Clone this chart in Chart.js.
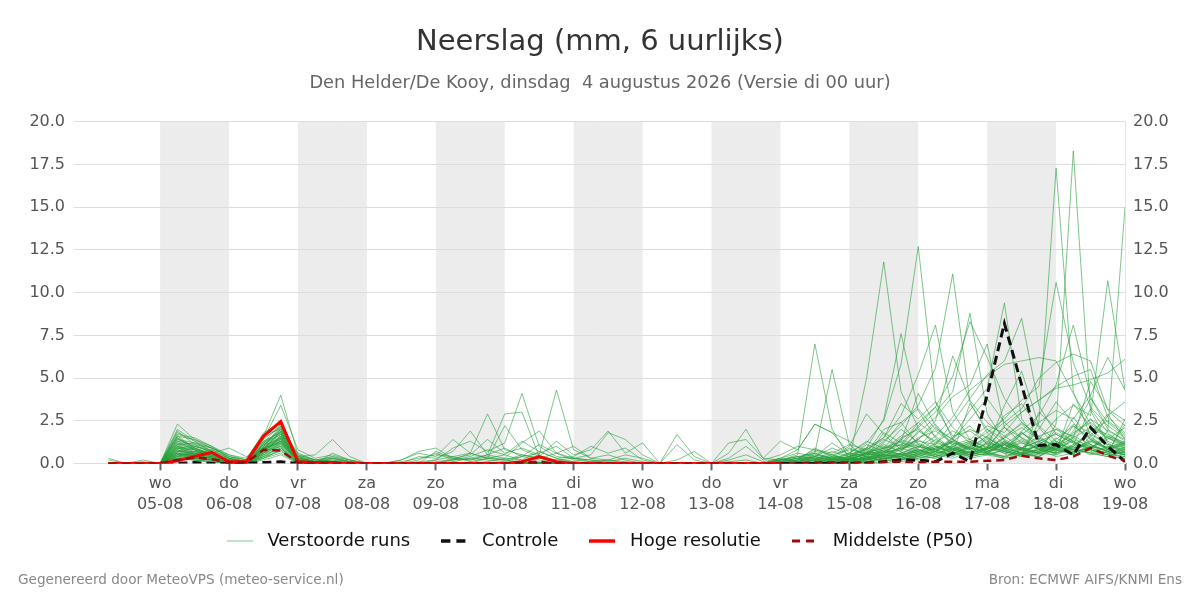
<!DOCTYPE html>
<html><head><meta charset="utf-8">
<script src="https://cdn.jsdelivr.net/npm/chart.js@4/dist/chart.umd.min.js"></script>
<style>
html,body{margin:0;padding:0;background:#fff;}
#wrap{position:relative;width:1200px;height:600px;}
canvas{position:absolute;left:0;top:0;}
.foot{position:absolute;top:571px;font:13.6px 'DejaVu Sans';color:#888;white-space:nowrap;}
</style></head><body>
<div id="wrap"><canvas id="c" width="1200" height="600"></canvas>
<div class="foot" style="left:18px">Gegenereerd door MeteoVPS (meteo-service.nl)</div>
<div class="foot" style="right:18px">Bron: ECMWF AIFS/KNMI Ens</div></div>
<script>
// hours relative to wo 05-08 00:00
const hours = [-18,-12,-6,0,6,12,18,24,30,36,42,48,54,60,66,72,78,84,90,96,102,108,114,120,126,132,138,144,150,156,162,168,174,180,186,192,198,204,210,216,222,228,234,240,246,252,258,264,270,276,282,288,294,300,306,312,318,324,330,336];
const dayHours = [0,24,48,72,96,120,144,168,192,216,240,264,288,312,336];
const dayNames = ['wo','do','vr','za','zo','ma','di','wo','do','vr','za','zo','ma','di','wo'];
const dayDates = ['05-08','06-08','07-08','08-08','09-08','10-08','11-08','12-08','13-08','14-08','15-08','16-08','17-08','18-08','19-08'];
const shadedDays = [0,48,96,144,192,240,288];

const control = [0,0,0, 0,0,0.05,0, 0,0,0.05,0.1, 0,0,0,0, 0,0,0,0, 0,0,0,0, 0,0,0,0, 0,0,0,0, 0,0,0,0, 0,0,0,0, 0,0,0,0, 0,0,0.1,0.2, 0.2,0.1,0.6,0.1, 4.0,8.2,4.6,1.05, 1.1,0.5,2.1,1.0, 0.1];
const hres = [0,0,0, 0,0.15,0.4,0.65, 0.1,0.1,1.6,2.45, 0.1,0.05,0.05,0, 0,0,0,0, 0,0,0,0, 0,0.1,0.4,0.1, 0,0,0,0, 0,0,0,0, 0,0,0,0, 0];
const p50 = [0,0,0, 0,0.2,0.35,0.25, 0.05,0.05,0.8,0.75, 0.05,0,0,0, 0,0,0,0, 0,0,0,0, 0,0.05,0.1,0, 0,0,0,0, 0,0,0,0, 0,0,0,0, 0,0,0.05,0.05, 0.05,0.05,0.1,0.1, 0.05,0.1,0.1,0.1, 0.15,0.2,0.45,0.3, 0.2,0.4,0.9,0.45, 0.15];

const run01 = [0.3,0,0.2, 0,2.3,1.4,0.9, 0.4,0.1,1.2,1.9, 0.3,0.1,0.2,0.1, 0,0,0,0.1, 0.2,0.4,0.1,0.3, 0.5,0.2,0.7,0.3, 0.1,0,0.2,0.1, 0,0,0,0, 0,0.1,0.2,0, 0.1,0.3,0.8,0.5, 0.2,0.6,1.1,0.7, 1.9,1.3,0.8,0.4, 0.6,1.2,0.7,0.5, 1.0,0.8,0.6,0.4, 0.7];
const run02 = [0,0,0, 0,1.9,1.1,0.6, 0.2,0,1.6,4.0, 0.5,0.2,0.1,0, 0,0,0,0, 0,0.1,0.3,0.2, 0.1,0.4,0.2,0.1, 0,0,0,0, 0,0,0,0, 0,0,0,0, 0,0.2,0.5,0.3, 0.1,0.4,0.9,1.3, 0.8,0.6,1.5,2.2, 1.1,0.7,0.5,2.4, 17.3,4.2,1.6,0.8, 0.5];
const run03 = [0,0,0, 0,1.7,1.5,1.0, 0.3,0,1.4,3.4, 0.8,0.3,0.5,0.2, 0,0,0,0, 0,0,0,0.1, 0.3,0.2,0.1,0, 0,0,0,0, 0,0,0,0, 0,0,0,0, 0.3,0.1,0.4,0.2, 0.2,0.3,0.6,0.9, 1.4,0.8,0.5,0.7, 0.9,0.6,0.4,0.6, 2.3,18.3,3.1,1.2, 0.6];
const run04 = [0,0,0, 0,2.0,1.3,0.7, 0.1,0.2,0.9,1.6, 0.2,0,0.1,0, 0,0,0.2,0.7, 0.9,0.3,0.2,0.4, 0.2,0.1,0.3,0.1, 0,0,0,0, 0,0,0,0, 0,0,0,0, 0.2,0.5,7.0,2.0, 0.3,0.2,0.5,0.4, 0.7,1.1,0.6,0.3, 0.5,0.8,1.2,0.9, 0.6,1.1,0.9,1.4, 2.1];
const run05 = [0,0,0, 0,1.5,0.9,0.5, 0.2,0.1,1.0,2.2, 0.1,0,0,0, 0,0,0,0, 0.1,0.2,0.6,0.3, 0.2,0.5,0.3,0.2, 0.1,0,0,0, 0,0,0,0, 0,0,0,0, 0.1,0.3,0.6,5.5, 1.1,0.3,0.7,0.5, 0.8,0.4,1.0,1.3, 0.6,0.4,1.8,1.0, 0.9,2.7,1.4,0.8, 1.1];
const run06 = [0,0,0, 0,1.4,1.0,0.8, 0.3,0.1,0.7,1.5, 0.3,0.1,0.4,0.1, 0,0,0,0, 0,0,0,0, 0,0,0,0, 0,0,0,0, 0,0,0,0, 0,0,0,0, 0.1,0.2,0.3,0.4, 0.2,5.0,11.8,4.2, 2.1,1.0,0.6,0.9, 1.6,0.8,0.5,1.2, 0.7,3.5,2.1,1.0, 0.8];
const run07 = [0,0,0, 0,1.2,0.8,0.6, 0.2,0,0.8,1.3, 0.1,0,0,0, 0,0,0,0, 0,0,0,0, 0,0,0,0, 0,0,0,0, 0,0,0,0, 0,0,0,0, 0,0.1,0.2,0.3, 0.6,1.2,2.5,5.8, 12.7,3.6,1.4,0.8, 1.5,0.9,0.6,0.4, 1.2,2.3,1.8,1.1, 0.9];
const run08 = [0,0,0, 0,1.1,1.2,0.9, 0.5,0.2,1.8,2.4, 0.4,0.2,0.3,0.1, 0,0,0,0, 0,0,0,0, 0,0,0,0, 0,0,0,0, 0,0,0,0, 0,0,0,0, 0.2,0.4,0.3,0.2, 0.3,0.9,2.6,7.6, 3.1,1.5,0.7,0.4, 0.6,1.3,0.8,2.0, 3.6,2.4,1.1,0.7, 0.5];
const run09 = [0,0,0, 0,1.0,0.7,0.4, 0.1,0,0.6,1.2, 0.2,0,0,0, 0,0,0,0, 0,0,0,0, 0,0,0,0, 0,0,0,0, 0,0,0,0, 0,0,0,0, 0,0.1,0.3,0.2, 0.4,0.8,1.5,2.8, 5.2,8.1,3.0,1.4, 0.9,0.7,1.8,1.2, 0.8,1.6,2.6,1.3, 0.9];
const run10 = [0,0,0, 0,0.9,0.6,0.5, 0.3,0.1,1.3,1.8, 0.2,0,0.1,0, 0,0,0,0, 0,0,0,0, 0,0,0,0, 0,0,0,0, 0,0,0,0, 0,0,0,0, 0,0,0,0.3, 0.2,0.6,1.3,2.2, 3.4,5.6,11.1,3.6, 1.8,0.8,0.5,0.7, 1.4,2.2,1.5,0.9, 1.2];
const run11 = [0,0,0, 0,0.8,0.5,0.3, 0.1,0,0.5,1.1, 0.1,0,0,0, 0,0,0,0, 0,0,0,0, 0,0,0,0, 0,0,0,0, 0,0,0,0, 0,0,0,0, 0,0,0,0, 0.1,0.3,0.5,1.4, 2.1,3.0,4.2,8.8, 2.9,1.3,0.8,0.6, 0.5,1.0,1.9,2.5, 1.7];
const run12 = [0,0,0, 0,0.7,0.9,0.6, 0.2,0.1,1.1,1.7, 0.3,0.1,0,0, 0,0,0,0, 0,0,0,0, 0,0,0,0, 0,0,0,0, 0,0,0,0, 0,0,0,0, 0,0.1,0.4,0.2, 0.3,0.5,0.8,1.6, 2.4,3.3,5.1,8.3, 6.2,3.8,2.4,1.5, 1.0,0.7,1.3,0.9, 0.6];
const run13 = [0,0,0, 0,0.6,0.4,0.3, 0,0,0.9,1.4, 0.1,0,0,0, 0,0,0,0, 0,0,0,0, 0,0,0,0, 0,0,0,0, 0,0,0,0, 0,0,0,0, 0,0,0.1,0.2, 0.1,0.3,0.6,0.9, 1.8,2.7,3.9,4.6, 7.0,2.1,1.2,0.8, 0.6,1.1,3.2,1.8, 1.0];
const run14 = [0,0,0, 0,0.5,0.3,0.2, 0,0,0.7,1.0, 0,0,0,0, 0,0,0,0, 0,0,0,0, 0,0,0,0, 0,0,0,0, 0,0,0,0, 0,0,0,0, 0,0,0,0.1, 0.2,0.4,0.3,0.6, 1.0,0.8,1.5,3.1, 4.4,9.4,2.6,1.3, 0.8,0.5,1.6,2.9, 1.4];
const run15 = [0,0,0, 0,0.4,0.5,0.4, 0.1,0,0.8,1.5, 0.2,0,0,0, 0,0,0,0, 0,0,0,0, 0,0,0,0, 0,0,0,0, 0,0,0,0, 0,0,0,0, 0,0,0,0, 0.1,0.2,0.4,0.8, 1.3,1.1,2.4,3.8, 5.2,6.0,8.5,3.4, 1.7,1.2,0.9,0.6, 0.8];
const run16 = [0,0,0, 0,0.3,0.2,0.1, 0,0,0.4,0.9, 0,0,0,0, 0,0,0,0, 0,0,0,0, 0,0,0,0, 0,0,0,0, 0,0,0,0, 0,0,0,0, 0,0,0.2,0.1, 0.3,0.2,0.5,0.4, 0.9,1.6,2.7,4.3, 5.1,5.8,6.0,6.2, 6.0,4.1,2.3,1.5, 1.1];
const run17 = [0,0,0, 0,1.3,0.8,0.4, 0,0,1.0,2.0, 0.4,0.1,0.2,0, 0,0,0,0, 0,0,0,0, 0,0,0,0, 0,0,0,0, 0,0,0,0, 0,0,0,0, 0,0,0,0.2, 0.4,0.6,0.4,0.3, 0.5,0.9,0.7,1.2, 1.8,2.6,3.7,4.5, 10.6,5.9,3.3,2.2, 1.5];
const run18 = [0,0,0, 0,1.1,0.6,0.5, 0.2,0,1.5,2.1, 0.2,0.1,0,0, 0,0,0,0, 0,0,0,0, 0,0,0,0, 0,0,0,0, 0,0,0,0, 0,0,0,0, 0,0,0,0, 0,0.1,0.2,0.1, 0.3,0.5,0.9,0.6, 1.2,0.8,1.9,2.8, 4.6,8.1,3.9,2.0, 1.3];
const run19 = [0,0,0, 0,0.9,1.0,0.7, 0.1,0,1.2,2.3, 0.5,0.2,0.1,0, 0,0,0,0, 0,0,0,0, 0,0,0,0, 0,0,0,0, 0,0,0,0, 0,0,0,0, 0,0,0,0, 0.1,0.3,0.2,0.5, 0.4,0.7,1.3,0.9, 1.6,2.4,3.2,5.0, 5.9,6.4,6.0,3.1, 2.2];
const run20 = [0,0,0, 0,0.8,0.4,0.3, 0,0,0.6,1.6, 0.1,0,0,0, 0,0,0,0, 0,0,0,0, 0,0,0,0, 0,0,0,0, 0,0,0,0, 0,0,0,0, 0,0,0,0, 0,0,0.1,0.3, 0.2,0.4,0.7,1.1, 0.8,1.5,2.1,1.4, 2.6,3.4,2.8,10.7, 4.3];
const run21 = [0,0,0, 0,0.7,0.7,0.5, 0.1,0,0.9,1.3, 0.2,0,0,0, 0,0,0,0, 0,0,0,0, 0,0,0,0, 0,0,0,0, 0,0,0,0, 0,0,0,0, 0,0,0,0, 0,0.1,0.3,0.2, 0.5,0.3,0.6,1.0, 0.7,1.2,0.9,1.6, 2.0,1.3,0.8,1.9, 15.0];
const run22 = [0,0,0, 0,0.6,0.3,0.2, 0,0,0.5,1.2, 0,0,0,0, 0,0,0,0, 0,0,0,0, 0,0,0,0, 0,0,0,0, 0,0,0,0, 0,0,0,0, 0,0,0,0, 0.1,0.2,0.4,0.6, 0.8,0.5,1.1,1.4, 0.9,2.2,3.0,3.7, 4.4,4.6,4.9,5.3, 6.1];
const run23 = [0,0,0, 0,0.5,0.6,0.4, 0.1,0,0.8,1.9, 0.3,0.1,0,0, 0,0,0,0, 0,0,0,0, 0,0,0,0, 0,0,0,0, 0,0,0,0, 0,0,0,0, 0,0,0,0, 0.2,0.1,0.3,0.4, 0.6,1.0,0.8,0.5, 1.3,0.9,1.7,2.4, 3.1,2.6,4.0,6.2, 4.3];
const run24 = [0,0,0, 0,0.4,0.2,0.2, 0,0,0.3,0.8, 0,0,0,0, 0,0,0,0, 0,0,0,0, 0,0,0,0, 0,0,0,0, 0,0,0,0, 0,0,0,0, 0,0,0,0, 0,0,0,0.2, 0.4,0.3,0.6,3.5, 2.0,1.1,0.8,0.6, 1.0,1.5,2.1,1.7, 1.2,2.5,2.9,2.7, 3.6];
const run25 = [0,0,0, 0,1.6,0.9,0.5, 0.2,0.1,1.3,1.8, 0.2,0,0,0, 0,0,0.1,0.3, 0.5,0.4,0.6,2.9, 0.8,0.5,0.3,0.6, 0.2,0.1,0,0, 0,0,0,0, 0,0.2,0.5,0.1, 0.3,0.6,0.4,1.2, 0.5,0.8,1.4,1.0, 2.2,3.3,1.6,1.9, 1.2,2.8,3.5,2.1, 1.0,0.7,1.4,0.9, 0.5];
const run26 = [0,0,0, 0,1.3,1.1,0.9, 0.4,0.2,1.0,2.1, 0.3,0.1,0.1,0, 0,0,0,0.2, 0.6,0.2,0.3,0.5, 2.9,3.0,0.4,0.2, 0.3,0.1,0.2,0, 0,0,0,0, 0,0,0,0, 0,0.2,0.6,0.3, 0.4,1.1,0.7,1.5, 2.0,1.2,0.9,0.5, 0.8,1.5,2.4,1.6, 0.9,0.5,0.8,0.6, 0.3];
const run27 = [0,0,0, 0,1.0,0.8,0.5, 0.2,0,0.8,1.6, 0.2,0,0,0, 0,0,0,0, 0.2,0.9,1.3,0.7, 1.2,4.1,1.0,0.4, 0.3,0.2,0.1,0.3, 0.1,0,0,0, 0,0,0,0, 0,0,0.2,0.1, 0.3,0.2,0.4,0.9, 1.1,0.6,0.8,1.3, 0.7,0.9,1.4,0.8, 2.0,1.6,1.1,0.7, 0.9];
const run28 = [0,0,0, 0,0.9,0.6,0.8, 0.3,0.1,1.1,1.4, 0.1,0,0,0, 0,0,0,0, 0,0.3,0.5,1.4, 0.6,0.9,0.5,4.3, 0.8,0.3,0.5,0.2, 0,0,0,0, 0,0,0,0, 0,0,0.1,0.2, 0.6,0.4,1.8,1.2, 0.9,2.1,1.4,0.8, 1.1,0.6,0.9,1.3, 1.7,1.2,0.6,0.4, 0.3];
const run29 = [0,0,0, 0,0.8,0.5,0.3, 0,0,0.6,1.0, 0,0,0,0, 0,0,0,0.4, 0.3,0.7,1.9,0.5, 0.3,1.2,1.9,0.6, 0.3,0.5,1.8,1.4, 0.5,0,0,0, 0,0,0,0, 0.2,0.4,0.3,0.5, 0.2,0.6,0.9,0.5, 0.7,1.0,0.6,0.4, 0.9,1.3,0.8,1.0, 0.7,1.5,0.9,0.6, 0.4];
const run30 = [0,0,0, 0,0.7,0.4,0.3, 0.1,0,0.9,1.2, 0.1,0,0,0, 0,0,0.2,0.6, 0.4,1.4,0.6,0.3, 2.2,0.8,0.4,1.3, 0.5,0.8,1.9,0.6, 1.2,0,0,0, 0,0,0,0, 0,0.1,0.2,0.4, 0.3,0.5,0.7,0.3, 0.6,0.9,1.2,0.8, 1.4,0.7,0.5,0.9, 1.2,0.8,0.6,1.0, 0.7];
const run31 = [0,0,0, 0,0.6,0.5,0.4, 0,0,0.7,1.1, 0.2,0,0,0, 0,0,0,0, 0,0.2,0.4,0.8, 0.5,1.3,0.7,0.3, 0.4,1.0,0.6,0.9, 0.2,0,1.7,0.4, 0,0.6,2.0,0.3, 0.2,0.4,0.6,0.3, 0.5,0.9,0.6,1.4, 1.0,0.7,0.5,1.1, 0.8,1.2,0.9,0.6, 1.5,0.9,1.3,0.8, 0.6];
const run32 = [0,0,0, 0,0.5,0.3,0.2, 0,0,0.5,0.9, 0,0,0,0, 0,0,0,0, 0.7,0.3,0.2,0.5, 0.9,0.4,1.1,0.6, 1.0,0.3,0.2,0.5, 0.3,0,1.1,0.2, 0,1.2,1.4,0.3, 1.3,0.8,2.3,1.8, 1.3,0.6,0.9,1.1, 0.7,0.4,0.6,0.5, 0.9,1.1,0.6,0.8, 1.2,0.7,0.9,1.6, 1.1];
const run33 = [0,0,0, 0,0.4,0.7,0.6, 0.9,0.4,0.8,1.3, 0.4,0.5,1.4,0.4, 0,0,0,0, 0,0,0,0.3, 0.2,0.4,0.6,1.0, 0.3,0.2,0,0, 0,0,0.2,0.7, 0,0.3,1.0,0.2, 0.5,1.0,0.8,0.6, 1.1,0.8,0.4,0.6, 0.5,0.9,1.3,0.7, 0.6,0.4,0.8,1.0, 0.5,0.9,1.1,0.7, 0.8];
const run34 = [0.2,0,0.1, 0,0.3,0.2,0.1, 0,0,0.4,0.7, 0.1,0,0.6,0.2, 0,0,0,0, 0,0,0,0, 0,0,0,0, 0,0,0,0, 0,0,0,0, 0,0,0,0, 0,0,0,0.1, 0.3,0.2,0.5,0.3, 0.6,0.4,0.8,1.2, 0.7,1.1,0.5,0.4, 0.9,0.6,0.8,0.5, 0.4];
const run35 = [0,0,0, 0,0.3,0.4,0.3, 0.1,0,0.3,0.6, 0,0,0.3,0.1, 0,0,0,0, 0,0,0,0, 0,0,0,0, 0,0,0,0, 0,0,0,0, 0,0,0,0, 0,0,0,0, 0,0.1,0.3,0.2, 0.4,0.8,1.0,0.6, 0.5,0.3,0.9,1.3, 0.8,0.6,1.0,0.7, 0.5];
const run36 = [0,0,0, 0,0.2,0.3,0.2, 0,0,0.2,0.5, 0,0,0,0, 0,0,0,0, 0,0,0,0, 0,0,0,0, 0,0,0,0, 0,0,0,0, 0,0,0,0, 0,0,0,0, 0.1,0.3,0.2,0.6, 1.0,0.7,1.3,2.0, 1.5,0.9,0.6,1.1, 1.8,1.3,0.7,0.5, 2.6,1.9,1.2,0.8, 0.6];
const run37 = [0,0,0, 0,1.2,1.0,0.7, 0.3,0.1,0.9,1.7, 0.2,0,0,0, 0,0,0,0, 0,0,0,0, 0,0,0,0, 0,0,0,0, 0,0,0,0, 0,0,0,0, 0,0,0,0, 0.3,0.5,1.2,2.4, 3.2,2.0,1.4,0.9, 0.6,1.1,1.8,1.0, 0.7,1.4,1.0,0.8, 1.2];
const run38 = [0,0,0, 0,0.9,0.8,0.4, 0.2,0,1.0,1.5, 0.1,0,0,0, 0,0,0,0, 0,0,0,0, 0,0,0,0, 0,0,0,0, 0,0,0,0, 0,0,0,0, 0,0,0,0, 0.2,0.4,0.6,1.3, 4.1,2.2,1.0,0.6, 0.9,2.1,1.5,0.8, 0.6,1.0,1.7,1.1, 0.8];
const run39 = [0,0,0, 0,1.4,1.2,0.7, 0.2,0.1,1.1,2.0, 0.3,0.1,0,0, 0,0,0,0, 0,0,0,0, 0,0,0,0, 0,0,0,0, 0,0,0,0, 0,0,0,0, 0,0,0,0, 0.4,0.9,1.5,3.5, 2.6,3.6,2.1,1.2, 0.8,1.6,2.3,1.4, 1.0,0.6,0.9,1.5, 1.0];
const run40 = [0,0,0, 0,0.7,0.6,0.5, 0.1,0,0.6,1.4, 0.1,0,0,0, 0,0,0,0, 0,0,0,0, 0,0,0,0, 0,0,0,0, 0,0,0,0, 0,0,0,0, 0,0,0,0, 0.2,0.6,0.4,1.0, 1.4,2.5,6.3,3.7, 2.4,1.6,0.9,0.7, 1.3,0.8,2.1,1.5, 0.9];
const run41 = [0,0,0, 0,1.8,1.3,0.9, 0.4,0.2,1.4,2.2, 0.4,0.1,0.3,0.1, 0,0,0,0, 0,0,0,0, 0,0,0,0, 0,0,0,0, 0,0,0,0, 0,0,0,0, 0.3,0.8,2.3,1.8, 0.6,1.3,0.9,2.0, 1.2,0.7,1.4,2.6, 3.8,2.4,1.5,1.0, 0.8,1.9,3.8,2.4, 1.6];
const run42 = [0,0,0, 0,1.5,0.8,0.6, 0.1,0,1.2,1.7, 0.2,0,0,0, 0,0,0,0, 0,0,0,0, 0,0,0,0, 0,0,0,0, 0,0,0,0, 0,0,0,0, 0,0.2,0.9,0.4, 1.0,2.9,1.7,0.8, 1.4,2.3,1.1,0.6, 0.9,3.4,5.4,2.2, 1.3,0.8,1.2,2.8, 3.6];
const run43 = [0,0,0, 0,1.1,0.9,0.5, 0.2,0.1,0.9,1.9, 0.3,0.1,0,0, 0,0,0,0, 0,0,0,0, 0,0,0,0, 0,0,0,0, 0,0,0,0, 0,0,0,0, 0.1,0.3,0.2,0.7, 0.4,0.6,2.0,2.4, 1.1,0.8,0.5,1.0, 2.0,1.4,0.9,0.6, 1.1,1.7,2.6,1.9, 1.4];
const run44 = [0,0,0, 0,1.0,0.5,0.3, 0.1,0,0.8,1.2, 0.1,0,0,0, 0,0,0,0, 0,0,0,0, 0,0,0,0, 0,0,0,0, 0,0,0,0, 0,0,0,0, 0,0.1,0.4,0.9, 0.5,0.3,0.8,0.5, 0.7,1.4,0.9,0.6, 0.5,0.8,1.3,0.9, 0.6,1.0,0.5,0.7, 2.3];
const run45 = [0,0,0, 0,0.6,0.4,0.3, 0,0,0.7,1.5, 0.1,0,0,0, 0,0,0,0, 0,0,0,0, 0,0,0,0, 0,0,0,0, 0,0,0,0, 0,0,0,0, 0.2,0.1,0.5,0.3, 0.9,0.5,0.7,1.1, 2.4,1.6,0.8,0.5, 1.0,0.7,0.4,3.0, 2.1,1.5,4.8,3.2, 2.5];
const run46 = [0,0,0, 0,0.5,0.5,0.4, 0.2,0,0.9,1.8, 0.2,0,0,0, 0,0,0,0, 0,0,0,0, 0,0,0,0, 0,0,0,0, 0,0,0,0, 0,0,0,0, 0.1,0.2,0.4,0.2, 0.3,0.7,0.5,0.9, 0.6,1.2,1.9,1.4, 2.2,1.8,3.0,3.7, 4.5,5.1,5.5,2.7, 1.8];
const run47 = [0,0,0, 0,0.4,0.3,0.2, 0,0,0.4,1.0, 0,0,0,0, 0,0,0,0, 0,0,0,0, 0,0,0,0, 0,0,0,0, 0,0,0,0, 0,0,0,0, 0,0,0.2,0.1, 0.2,0.3,0.5,0.4, 0.8,0.5,0.3,0.7, 1.2,0.9,0.6,0.4, 0.9,1.3,0.8,0.5, 0.7];
const run48 = [0,0,0, 0,0.3,0.2,0.1, 0,0,0.3,0.8, 0,0,0,0, 0,0,0,0, 0,0,0,0, 0,0,0,0, 0,0,0,0, 0,0,0,0, 0,0,0,0, 0,0.1,0.2,0.3, 0.1,0.4,0.3,0.2, 0.5,0.7,0.4,0.9, 0.6,0.3,0.5,0.8, 0.4,0.6,1.0,0.7, 0.5];
const run49 = [0,0,0, 0,0.2,0.4,0.3, 0.1,0,0.6,1.3, 0.2,0,0,0, 0,0,0,0, 0,0,0,0, 0,0,0,0, 0,0,0,0, 0,0,0,0, 0,0,0,0, 0,0,0,0, 0.2,0.1,0.3,0.5, 0.3,0.6,0.9,0.5, 0.7,0.4,0.6,1.1, 0.8,2.2,1.4,0.9, 1.3];
const run50 = [0,0,0, 0,1.6,1.4,1.0, 0.5,0.3,1.7,2.0, 0.6,0.2,0.4,0.2, 0,0,0,0, 0,0,0,0, 0,0,0,0, 0,0,0,0, 0,0,0,0, 0,0,0,0, 0.2,0.3,0.7,0.5, 0.8,0.6,1.0,0.7, 1.5,1.9,1.2,0.9, 0.7,1.1,0.8,0.6, 1.0,1.8,2.4,1.6, 1.2];

const runs = [run01,run02,run03,run04,run05,run06,run07,run08,run09,run10,run11,run12,run13,run14,run15,run16,run17,run18,run19,run20,run21,run22,run23,run24,run25,run26,run27,run28,run29,run30,run31,run32,run33,run34,run35,run36,run37,run38,run39,run40,run41,run42,run43,run44,run45,run46,run47,run48,run49,run50];

const pts = arr => arr.map((v, i) => ({x: hours[i], y: v}));
const FONT = 'DejaVu Sans';

const datasets = [
  {label: 'Middelste (P50)', data: pts(p50), borderColor: '#9b0b0b', backgroundColor: '#9b0b0b', borderWidth: 2.5, borderDash: [8, 5]},
  {label: 'Hoge resolutie', data: pts(hres), borderColor: '#ff0000', backgroundColor: '#ff0000', borderWidth: 3},
  {label: 'Controle', data: pts(control), borderColor: '#111111', backgroundColor: '#111111', borderWidth: 3, borderDash: [9, 5]}
];
runs.forEach((r, k) => datasets.push({
  label: k === 0 ? 'Verstoorde runs' : '', data: pts(r),
  borderColor: 'rgba(40,160,60,0.6)', backgroundColor: 'rgba(40,160,60,0.6)', borderWidth: 1
}));

const legendRank = {'Verstoorde runs': 0, 'Controle': 1, 'Hoge resolutie': 2, 'Middelste (P50)': 3};
const defaultLabels = Chart.defaults.plugins.legend.labels.generateLabels;

// small line swatches for the legend (style only)
function swatch(color, width, dash) {
  const c = document.createElement('canvas');
  c.width = 26; c.height = 6;
  const g = c.getContext('2d');
  g.strokeStyle = color; g.lineWidth = width; g.setLineDash(dash || []);
  g.beginPath(); g.moveTo(0, 3); g.lineTo(26, 3); g.stroke();
  return c;
}
const swatches = {
  'Verstoorde runs': swatch('rgba(40,160,60,0.6)', 1),
  'Controle': swatch('#111111', 3.5, [9, 6]),
  'Hoge resolutie': swatch('#ff0000', 3.5),
  'Middelste (P50)': swatch('#9b0b0b', 3, [8, 6])
};

const bands = {
  id: 'bands',
  beforeDraw(chart) {
    const {ctx, chartArea: a, scales: {x}} = chart;
    ctx.save();
    ctx.fillStyle = '#ececec';
    shadedDays.forEach(s => {
      const x0 = x.getPixelForValue(s), x1 = x.getPixelForValue(s + 24);
      ctx.fillRect(x0, a.top, x1 - x0, a.bottom - a.top);
    });
    ctx.restore();
  }
};

new Chart(document.getElementById('c'), {
  type: 'line',
  data: {datasets},
  options: {
    responsive: false, animation: false, devicePixelRatio: 1,
    layout: {padding: {left: 0, right: 0, top: 0, bottom: 40}},
    elements: {point: {radius: 0, hitRadius: 0, pointStyle: 'line'}, line: {tension: 0, borderCapStyle: 'butt', borderJoinStyle: 'miter'}},
    plugins: {
      title: {display: true, text: 'Neerslag (mm, 6 uurlijks)', color: '#333', font: {family: FONT, size: 29, weight: 'normal'}, padding: {top: 24.6, bottom: 13.8}},
      subtitle: {display: true, text: 'Den Helder/De Kooy, dinsdag  4 augustus 2026 (Versie di 00 uur)', color: '#666', font: {family: FONT, size: 17.8, weight: 'normal'}, padding: {top: 0, bottom: 27.4}},
      legend: {
        position: 'bottom',
        labels: {
          font: {family: FONT, size: 18}, color: '#111', usePointStyle: true, pointStyleWidth: 26, padding: 14,
          generateLabels: chart => {
            const items = defaultLabels(chart)
              .filter(it => it.text !== '')
              .sort((a, b) => legendRank[a.text] - legendRank[b.text]);
            return items.map((it, k) => Object.assign(it, {
              pointStyle: swatches[it.text],
              text: ' ' + it.text + (k < items.length - 1 ? '   ' : '')
            }));
          }
        }
      },
      tooltip: {enabled: false}
    },
    scales: {
      x: {
        type: 'linear', min: -30, max: 336,
        afterBuildTicks: s => { s.ticks = dayHours.map(v => ({value: v})); },
        ticks: {
          autoSkip: false, maxRotation: 0, padding: 3, color: '#555',
          font: {family: FONT, size: 16, lineHeight: 1.3},
          callback: v => { const i = dayHours.indexOf(v); return i >= 0 ? [dayNames[i], dayDates[i]] : ''; }
        },
        grid: {drawOnChartArea: false, drawTicks: true, tickLength: 7, tickColor: '#666', tickWidth: 2},
        border: {display: false}
      },
      y: {
        position: 'left', min: 0, max: 20,
        afterFit: s => { s.width = 74; },
        ticks: {stepSize: 2.5, padding: 9, color: '#555', font: {family: FONT, size: 16}, callback: v => v.toFixed(1)},
        grid: {color: '#dddddd', lineWidth: 1, drawTicks: false},
        border: {display: false}
      },
      y2: {
        position: 'right', min: 0, max: 20,
        afterFit: s => { s.width = 75; },
        ticks: {stepSize: 2.5, padding: 8, color: '#555', font: {family: FONT, size: 16}, callback: v => v.toFixed(1)},
        grid: {drawOnChartArea: false, drawTicks: false},
        border: {display: true, color: '#e4e4e4'}
      }
    }
  },
  plugins: [bands]
});
</script>
</body></html>
